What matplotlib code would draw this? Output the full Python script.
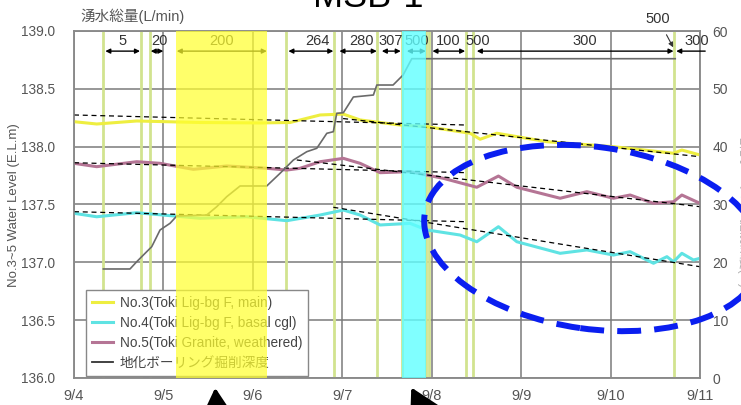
import matplotlib
matplotlib.use("Agg")
import matplotlib.pyplot as plt
from matplotlib.patches import Ellipse, FancyArrowPatch
from matplotlib.transforms import IdentityTransform, blended_transform_factory
import numpy as np

plt.rcParams['font.family'] = ['Liberation Sans', 'Noto Sans CJK JP', 'DejaVu Sans']

# ---------------- data (days since 9/4) ----------------
day_ticks = [0, 1, 2, 3, 4, 5, 6, 7]
day_labels = ['9/4', '9/5', '9/6', '9/7', '9/8', '9/9', '9/10', '9/11']

no3_days = [0, 0.254, 0.701, 1.409, 2.081, 2.416, 2.752, 3.009, 3.199, 3.647, 3.945,
            4.430, 4.541, 4.728, 5.288, 6.032, 6.704, 6.797, 7.0]
no3_vals = [138.216, 138.196, 138.222, 138.209, 138.205, 138.209, 138.274, 138.282, 138.231,
            138.187, 138.173, 138.116, 138.064, 138.116, 138.043, 138.0, 137.943, 137.971, 137.928]

no4_days = [0, 0.254, 0.701, 1.409, 1.932, 2.379, 2.752, 3.012, 3.199, 3.423, 3.758, 3.945,
            4.318, 4.504, 4.746, 4.952, 5.436, 5.735, 6.032, 6.219, 6.480, 6.630, 6.704,
            6.797, 6.927, 7.0]
no4_vals = [137.424, 137.394, 137.429, 137.381, 137.394, 137.360, 137.409, 137.452, 137.409,
            137.323, 137.337, 137.280, 137.236, 137.178, 137.308, 137.178, 137.078, 137.107,
            137.063, 137.092, 136.992, 137.049, 137.005, 137.078, 137.020, 137.035]

no5_days = [0, 0.254, 0.701, 0.962, 1.334, 1.708, 2.155, 2.379, 2.528, 2.752, 3.012, 3.199,
            3.423, 3.758, 4.131, 4.504, 4.746, 4.952, 5.436, 5.735, 6.032, 6.219, 6.480,
            6.704, 6.797, 7.0]
no5_vals = [137.856, 137.827, 137.870, 137.856, 137.804, 137.833, 137.813, 137.798, 137.813,
            137.870, 137.899, 137.856, 137.775, 137.784, 137.726, 137.649, 137.746, 137.649,
            137.554, 137.611, 137.554, 137.582, 137.510, 137.524, 137.582, 137.510]

depth_days = [0.328, 0.626, 0.701, 0.813, 0.869, 0.925, 0.962, 1.074, 1.149, 1.484, 1.596,
              1.708, 1.857, 2.155, 2.304, 2.453, 2.603, 2.715, 2.827, 2.900, 2.938, 3.012,
              3.124, 3.348, 3.386, 3.568, 3.680, 3.777, 6.723]
depth_vals = [18.85, 18.85, 20.1, 21.84, 22.70, 24.43, 25.59, 26.75, 28.01, 28.18, 29.62,
              31.35, 33.2, 33.2, 35.39, 37.69, 39.13, 39.72, 42.31, 42.59, 45.77, 45.87,
              48.59, 48.93, 50.66, 50.66, 52.39, 55.21, 55.21]

# trend lines: (day0, val0, day1, val1)
trends = [
    (0.0, 138.274, 4.39, 138.187),
    (3.009, 138.243, 7.0, 137.913),
    (0.0, 137.861, 4.393, 137.775),
    (2.491, 137.885, 7.0, 137.481),
    (0.0, 137.438, 4.393, 137.351),
    (2.900, 137.476, 7.0, 136.962),
]

event_days = [0.328, 0.749, 0.850, 2.371, 2.912, 3.386, 3.669, 3.934, 3.974, 4.385, 4.466, 6.704]
yellow_band = (1.138, 2.162)
cyan_band = (3.669, 3.934)

# spring-water totals (L/min): segment start, end, label, label position
seg_start = [0.350, 0.858, 1.149, 2.397, 2.968, 3.442, 3.722, 4.008, 4.504]
seg_end = [0.738, 0.999, 2.156, 2.900, 3.386, 3.654, 3.934, 4.374, 6.704]
seg_label = ['5', '20', '200', '264', '280', '307', '500', '100', '300']
seg_label_x = [0.548, 0.951, 1.655, 2.718, 3.218, 3.546, 3.833, 4.183, 5.716]
extra_label = ['500', '300']
extra_label_x = [4.519, 6.969]
last_seg = (7.058, 6.734)
note500_x, note500_target = 6.530, 6.700

# ---------------- figure ----------------
W, H = 741, 405
fig = plt.figure(figsize=(W / 100, H / 100), dpi=100)
ax = fig.add_axes([74 / W, 1 - 378 / H, 626 / W, 347 / H])
ax2 = ax.twinx()

gray_txt = '#555555'
ax.set_xlim(0, 7)
ax.set_ylim(136.0, 139.0)
ax2.set_ylim(0, 60)
ax.set_xticks(day_ticks)
ax.set_xticklabels(day_labels)
ax.set_yticks(np.arange(136.0, 139.01, 0.5))
ax.set_yticklabels([f'{v:.1f}' for v in np.arange(136.0, 139.01, 0.5)])
ax2.set_yticks(np.arange(0, 61, 10))
ax.tick_params(axis='y', length=0, colors=gray_txt, labelsize=9.8, pad=13.5)
ax.tick_params(axis='x', length=0, colors=gray_txt, labelsize=10.5, pad=8)
ax2.tick_params(axis='y', length=0, colors=gray_txt, labelsize=10, pad=9)
ax.grid(True, color='#7a7a7a', lw=1.1, zorder=0)
ax.set_axisbelow(True)
for a in (ax, ax2):
    for s in a.spines.values():
        s.set_color('#8a8a8a')
        s.set_linewidth(1.1)

# event lines
for d in event_days:
    ax.axvline(d, color='#d2e38f', lw=2.0, zorder=1)

# series
l3, = ax.plot(no3_days, no3_vals, color='#eeee40', lw=2.2, zorder=3,
              label='No.3(Toki Lig-bg F, main)')
l4, = ax.plot(no4_days, no4_vals, color='#5fe3e3', lw=2.2, zorder=3,
              label='No.4(Toki Lig-bg F, basal cgl)')
l5, = ax.plot(no5_days, no5_vals, color='#b57595', lw=2.2, zorder=3,
              label='No.5(Toki Granite, weathered)')
for d0, v0, d1, v1 in trends:
    ax.plot([d0, d1], [v0, v1], color='black', lw=0.9, ls=(0, (4, 3)), zorder=4)

ld, = ax2.plot(depth_days, depth_vals, color='#6a6a6a', lw=1.2, zorder=2)
ld_leg, = ax2.plot([], [], color='#333333', lw=1.3, label='地化ボーリング掘削深度')

# arrows for spring water totals
tr = blended_transform_factory(ax2.transData, ax2.transAxes)
y_arrow, y_lab = 0.942, 0.972
lab_fs = 10.5
for s, e, lab, lx in zip(seg_start, seg_end, seg_label, seg_label_x):
    ax2.annotate('', xy=(e, y_arrow), xytext=(s, y_arrow), xycoords=tr, textcoords=tr,
                 arrowprops=dict(arrowstyle='<|-|>', color='black', lw=1.0,
                                 mutation_scale=7, shrinkA=0, shrinkB=0), zorder=3)
    ax2.text(lx, y_lab, lab, transform=tr, ha='center', va='center', fontsize=lab_fs,
             color='#333333', zorder=3)
for lab, lx in zip(extra_label, extra_label_x):
    ax2.text(lx, y_lab, lab, transform=tr, ha='center', va='center', fontsize=lab_fs,
             color='#333333', zorder=3)
ax2.annotate('', xy=(last_seg[1], y_arrow), xytext=(last_seg[0], y_arrow), xycoords=tr,
             textcoords=tr, annotation_clip=False,
             arrowprops=dict(arrowstyle='-|>', color='black', lw=1.0, mutation_scale=7,
                             shrinkA=0, shrinkB=0), zorder=3)
ax2.annotate('500', xy=(note500_target, 0.953), xytext=(note500_x, 1.035), xycoords=tr,
             textcoords=tr, ha='center', va='center', fontsize=lab_fs, color='#333333',
             annotation_clip=False,
             arrowprops=dict(arrowstyle='-|>', color='#333333', lw=0.8, mutation_scale=7,
                             shrinkA=5, shrinkB=0))

# legend
leg = ax2.legend(handles=[l3, l4, l5, ld_leg], loc='lower left',
                 bbox_to_anchor=(0.019, 0.006), borderaxespad=0, fontsize=9.8,
                 handlelength=1.6, handletextpad=0.45, labelspacing=0.45,
                 frameon=True, fancybox=False, framealpha=1, edgecolor='#888888',
                 borderpad=0.42)
leg.get_frame().set_linewidth(1.0)
for t in leg.get_texts():
    t.set_color('#444444')
leg.set_zorder(5)

# translucent bands on top
ax2.axvspan(*yellow_band, color='#ffff30', alpha=0.72, lw=0, zorder=6)
ax2.axvspan(*cyan_band, color='#60ffff', alpha=0.8, lw=0, zorder=6)

# labels
fig.text(80 / W, 1 - 16 / H, '湧水総量(L/min)', ha='left', va='center', fontsize=10.5,
         color=gray_txt)
fig.text(14 / W, 1 - 205 / H, 'No.3~5 Water Level (E.L.m)', rotation=90, ha='center',
         va='center', fontsize=9.5, color=gray_txt)
fig.text(737 / W, 1 - 210 / H, '地化ボーリング掘削深度(m)', rotation=-90, ha='left',
         va='center', fontsize=9, color='#b0b0b0')
fig.text(368 / W, 1 - 7 / H, 'MSB-1', ha='center', va='baseline', fontsize=26, color='black')

# blue dashed ellipse (display pixels)
ell = Ellipse((593, H - 238), 340, 182, angle=-8, transform=IdentityTransform(),
              fill=False, edgecolor='#0a1ef0', lw=4.3, ls=(0, (4, 2.2)), zorder=10)
fig.add_artist(ell)

# pointer arrows at bottom
for (tx, ty, bx, by) in [(215, 385, 217, 412), (410, 385, 424, 412)]:
    fig.add_artist(FancyArrowPatch(
        (bx, H - by), (tx, H - ty), transform=IdentityTransform(),
        arrowstyle='-|>,head_length=0.8,head_width=0.45', mutation_scale=22,
        color='black', lw=2.8))

fig.savefig('out.png', dpi=100)
